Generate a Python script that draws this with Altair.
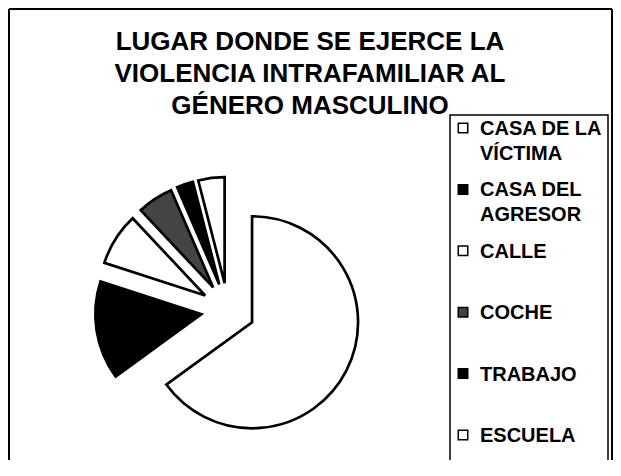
import altair as alt
import pandas as pd

# ---- data ----
CATEGORIES = ["CASA DE LA VÍCTIMA", "CASA DEL AGRESOR", "CALLE", "COCHE", "TRABAJO", "ESCUELA"]
LEGEND_LABELS = ["CASA DE LA\nVÍCTIMA", "CASA DEL\nAGRESOR", "CALLE", "COCHE", "TRABAJO", "ESCUELA"]
VALUES = [65, 15, 8, 5.5, 2.5, 4]
FILLS = ["#ffffff", "#000000", "#ffffff", "#444444", "#000000", "#ffffff"]
TITLE_LINES = ["LUGAR DONDE SE EJERCE LA", "VIOLENCIA INTRAFAMILIAR AL", "GÉNERO MASCULINO"]

FONT = "Liberation Sans"

df = pd.DataFrame({
    "cat": CATEGORIES,
    "label": LEGEND_LABELS,
    "value": VALUES,
    "fill": FILLS,
    "order": list(range(len(CATEGORIES))),
})

color_scale = alt.Scale(domain=CATEGORIES, range=FILLS)

# pie geometry (layout)
CX, CY, R, EXPLODE = 220, 302, 106, 27

arcs = alt.Chart(df).transform_joinaggregate(
    total="sum(value)"
).transform_window(
    cum="sum(value)", sort=[alt.SortField("order")], frame=[None, 0]
).transform_calculate(
    start="(datum.cum - datum.value) / datum.total * 2 * PI",
    end="datum.cum / datum.total * 2 * PI",
).transform_calculate(
    mid="(datum.start + datum.end) / 2"
).transform_calculate(
    px=f"{CX} + {EXPLODE} * sin(datum.mid)",
    py=f"{CY} - {EXPLODE} * cos(datum.mid)",
).mark_arc(radius=R, stroke="black", strokeWidth=2.7).encode(
    theta=alt.Theta("start:Q", scale=None),
    theta2=alt.Theta2("end:Q"),
    x=alt.X("px:Q", scale=None, axis=None),
    y=alt.Y("py:Q", scale=None, axis=None),
    color=alt.Color("cat:N", scale=color_scale, legend=None),
)

legend_y = alt.Y("label:N", sort=LEGEND_LABELS, axis=None,
                 scale=alt.Scale(type="point", range=[120, 427], padding=0))

legend_sq = alt.Chart(df).mark_square(size=90, stroke="black", strokeWidth=1.5, opacity=1).encode(
    x=alt.value(455),
    y=legend_y,
    fill=alt.Color("cat:N", scale=color_scale, legend=None),
)

legend_txt = alt.Chart(df).mark_text(
    align="left", baseline="top", dy=-9, fontSize=20, fontWeight="bold", lineHeight=25,
    lineBreak="\n", font=FONT, color="black",
).encode(
    x=alt.value(472),
    y=legend_y,
    text=alt.Text("label:N"),
)

title_df = pd.DataFrame({"title": ["\n".join(TITLE_LINES)]})
title = alt.Chart(title_df).mark_text(
    align="center", baseline="middle", fontSize=26, fontWeight="bold",
    lineHeight=32, lineBreak="\n", font=FONT, color="black",
).encode(
    x=alt.value(302),
    y=alt.value(34),
    text=alt.Text("title:N"),
)

one = alt.Data(values=[{"k": 1}])
frame_left = alt.Chart(one).mark_rule(color="black", strokeWidth=2).encode(
    x=alt.value(1), y=alt.value(1), y2=alt.value(460))
frame_top = alt.Chart(one).mark_rule(color="black", strokeWidth=2).encode(
    x=alt.value(1), x2=alt.value(604), y=alt.value(1))
frame_right = alt.Chart(one).mark_rule(color="black", strokeWidth=2).encode(
    x=alt.value(604), y=alt.value(1), y2=alt.value(460))
legend_box = alt.Chart(one).mark_rect(fillOpacity=0, stroke="black", strokeWidth=1.5).encode(
    x=alt.value(442), x2=alt.value(600), y=alt.value(107), y2=alt.value(470))

chart = alt.layer(
    frame_left, frame_top, frame_right, legend_box, arcs, legend_sq, legend_txt, title
).resolve_scale(
    y="independent", x="independent"
).properties(
    width=605, height=452, padding=0, autosize="none", background="white"
).configure_view(stroke=None)

chart.save("out.html", embed_options={"renderer": "svg", "actions": False})
